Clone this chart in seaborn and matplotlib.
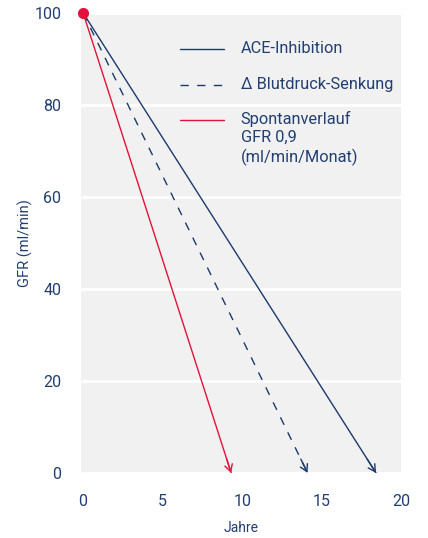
import pandas as pd
import matplotlib.pyplot as plt
import seaborn as sns

# GFR decline lines: start (0 years, 100) -> end (x years, 0)
series = ['ACE-Inhibition', 'Blutdruck-Senkung', 'Spontanverlauf']
start_years = [0, 0, 0]
start_gfr = [100, 100, 100]
end_years = [18.4, 14.1, 9.3]
end_gfr = [0, 0, 0]

x_ticks = [0, 5, 10, 15, 20]
y_ticks = [0, 20, 40, 60, 80, 100]

legend_labels = ['ACE-Inhibition', '\u2206 Blutdruck-Senkung',
                 'Spontanverlauf\nGFR 0,9\n(ml/min/Monat)']

navy = '#1c3a6c'
red = '#e3123d'
text_col = '#213f72'
bg = '#f1f1f1'

rows = []
for s, x0, y0, x1, y1 in zip(series, start_years, start_gfr, end_years, end_gfr):
    rows.append({'serie': s, 'Jahre': x0, 'GFR': y0})
    rows.append({'serie': s, 'Jahre': x1, 'GFR': y1})
df = pd.DataFrame(rows)

sns.set_style('white')
plt.rcParams['font.family'] = ['Roboto', 'DejaVu Sans']

fig = plt.figure(figsize=(4.28, 5.38), dpi=100)
ax = fig.add_axes([0.189, 0.121, 0.749, 0.855])
ax.set_facecolor(bg)

palette = {'ACE-Inhibition': navy, 'Blutdruck-Senkung': navy, 'Spontanverlauf': red}
dashes = {'ACE-Inhibition': '', 'Blutdruck-Senkung': (6, 6), 'Spontanverlauf': ''}
sns.lineplot(data=df, x='Jahre', y='GFR', hue='serie', style='serie',
             palette=palette, dashes=dashes, linewidth=1.0, legend=False, ax=ax,
             zorder=3)

# open arrow heads at the line ends
for s, x0, y0, x1, y1 in zip(series, start_years, start_gfr, end_years, end_gfr):
    dx = (x1 - x0) * 0.03
    dy = (y1 - y0) * 0.03
    ax.annotate('', xy=(x1, y1), xytext=(x1 - dx, y1 - dy),
                arrowprops=dict(arrowstyle='->,head_length=0.5,head_width=0.28',
                                color=palette[s], lw=1.0, shrinkA=0, shrinkB=0),
                annotation_clip=False, zorder=4)

# start point
ax.plot([start_years[0]], [start_gfr[0]], 'o', color=red, markersize=7,
        clip_on=False, zorder=5)

ax.set_xlim(-0.14, 20.0)
ax.set_ylim(0, 100)
ax.set_xticks(x_ticks)
ax.set_yticks(y_ticks)
ax.tick_params(axis='both', length=0, labelsize=11.5, colors=text_col)
ax.tick_params(axis='x', pad=15)
ax.tick_params(axis='y', pad=14)
ax.yaxis.grid(True, color='white', linewidth=2)
ax.xaxis.grid(False)
ax.set_axisbelow(True)
for sp in ax.spines.values():
    sp.set_visible(False)

ax.set_xlabel('Jahre', fontsize=10, color=text_col, labelpad=9)
ax.set_ylabel('GFR (ml/min)', fontsize=10.5, color=text_col, labelpad=1)

# legend drawn by hand
leg_rows = [0.922, 0.844, 0.768]
leg_style = [(navy, '-'), (navy, (0, (6, 6))), (red, '-')]
for yy, (c, ls), lab in zip(leg_rows, leg_style, legend_labels):
    ax.plot([0.31, 0.445], [yy, yy], color=c, linestyle=ls, linewidth=1.0,
            transform=ax.transAxes, clip_on=False)
    multi = '\n' in lab
    ax.text(0.498, yy + (0.019 if multi else 0), lab, transform=ax.transAxes,
            fontsize=11.8, color=text_col, va='top' if multi else 'center',
            ha='left', linespacing=1.25)

fig.savefig('out.png', dpi=100)
